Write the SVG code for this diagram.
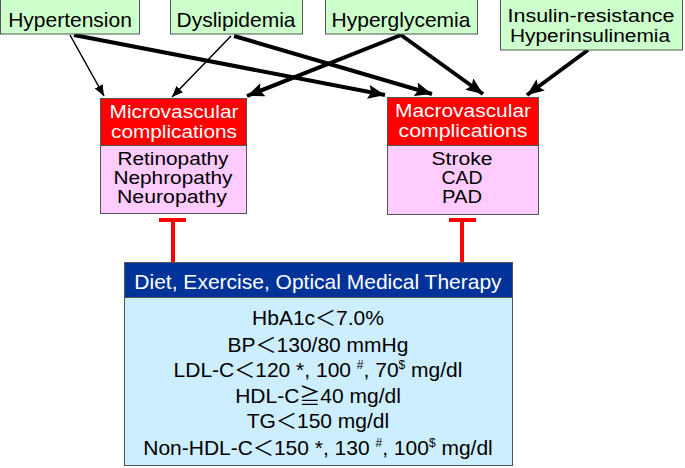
<svg xmlns="http://www.w3.org/2000/svg" width="685" height="468" viewBox="0 0 685 468">
<defs>
<style>
text{font-family:"Liberation Sans","Noto Sans CJK JP",sans-serif;font-size:21px;text-anchor:middle;fill:#000}
.s{font-size:17.5px}
.w{fill:#fff}
.box{stroke:#555;stroke-width:1}
.g{fill:#ccffcc}
.red{fill:#ff0000}
.pink{fill:#ffccff}
.blue{fill:#003399}
.lb{fill:#cceeff}
.thin{stroke:#000;stroke-width:1.5;fill:none;marker-end:url(#ah1)}
.thick{stroke:#000;stroke-width:4;fill:none;marker-end:url(#ah2)}
.inh{fill:#ff0000}
</style>
<marker id="ah1" markerUnits="userSpaceOnUse" markerWidth="12" markerHeight="10" refX="11" refY="4.5" orient="auto"><path d="M0,0 L11,4.5 L0,9 z" fill="#000"/></marker>
<marker id="ah2" markerUnits="userSpaceOnUse" markerWidth="18" markerHeight="16" refX="17" refY="7" orient="auto"><path d="M0,0 L17,7 L0,14 L3,7 z" fill="#000"/></marker>
</defs>

<g id="connectors">
<path class="thin" d="M70,35 L104,96"/>
<path class="thick" d="M74,35 L385,95"/>
<path class="thin" d="M231,36 L172,97"/>
<path class="thick" d="M234,36 L432,94"/>
<path class="thick" d="M401,35 L247,96"/>
<path class="thick" d="M401,35 L483,94"/>
<path class="thick" d="M588,50 L527,95"/>
<g id="inhibit-micro"><rect class="inh" x="171" y="219" width="4" height="43"/><rect class="inh" x="159" y="218" width="27" height="4"/></g>
<g id="inhibit-macro"><rect class="inh" x="460" y="219" width="4" height="43"/><rect class="inh" x="449" y="218" width="27" height="4"/></g>
</g>

<g id="hypertension"><rect class="box g" x="0.5" y="-1" width="139" height="35"/><text x="70" y="27">Hypertension</text></g>
<g id="dyslipidemia"><rect class="box g" x="170.5" y="-1" width="132" height="35"/><text x="236" y="27">Dyslipidemia</text></g>
<g id="hyperglycemia"><rect class="box g" x="325.5" y="-1" width="152" height="35"/><text x="401" y="27">Hyperglycemia</text></g>
<g id="insulin"><rect class="box g" x="500.5" y="-1" width="182" height="51"/><text class="s" x="591" y="22" textLength="167" lengthAdjust="spacingAndGlyphs">Insulin-resistance</text><text class="s" x="590" y="42" textLength="160" lengthAdjust="spacingAndGlyphs">Hyperinsulinemia</text></g>

<g id="micro">
<rect class="box red" x="100.5" y="98.5" width="146" height="47"/>
<rect class="box pink" x="100.5" y="145.5" width="146" height="68"/>
<text class="w s" x="174" y="118" textLength="129" lengthAdjust="spacingAndGlyphs">Microvascular</text>
<text class="w s" x="174" y="138" textLength="126" lengthAdjust="spacingAndGlyphs">complications</text>
<text class="s" x="173" y="165" textLength="111" lengthAdjust="spacingAndGlyphs">Retinopathy</text>
<text class="s" x="173" y="184" textLength="119" lengthAdjust="spacingAndGlyphs">Nephropathy</text>
<text class="s" x="172" y="203" textLength="110" lengthAdjust="spacingAndGlyphs">Neuropathy</text>
</g>

<g id="macro">
<rect class="box red" x="387.5" y="97.5" width="151" height="48"/>
<rect class="box pink" x="387.5" y="145.5" width="151" height="69"/>
<text class="w s" x="463" y="117" textLength="136" lengthAdjust="spacingAndGlyphs">Macrovascular</text>
<text class="w s" x="463" y="137" textLength="129" lengthAdjust="spacingAndGlyphs">complications</text>
<text class="s" x="462" y="165" textLength="61" lengthAdjust="spacingAndGlyphs">Stroke</text>
<text class="s" x="462" y="184" textLength="41" lengthAdjust="spacingAndGlyphs">CAD</text>
<text class="s" x="462" y="203" textLength="40" lengthAdjust="spacingAndGlyphs">PAD</text>
</g>

<g id="therapy">
<rect class="box blue" x="124.5" y="262.5" width="388" height="35"/>
<rect class="box lb" x="124.5" y="297.5" width="388" height="168"/>
<text class="w" x="318" y="289">Diet, Exercise, Optical Medical Therapy</text>
<text x="318" y="325">HbA1c＜7.0%</text>
<text x="318" y="352">BP＜130/80 mmHg</text>
<text x="318" y="377">LDL-C＜120 *, 100 <tspan font-size="12" dy="-8">#</tspan><tspan dy="8">, 70</tspan><tspan font-size="12" dy="-8">$</tspan><tspan dy="8"> mg/dl</tspan></text>
<text x="318" y="403">HDL-C≧40 mg/dl</text>
<text x="318" y="428">TG＜150 mg/dl</text>
<text x="318" y="455">Non-HDL-C＜150 *, 130 <tspan font-size="12" dy="-8">#</tspan><tspan dy="8">, 100</tspan><tspan font-size="12" dy="-8">$</tspan><tspan dy="8"> mg/dl</tspan></text>
</g>
</svg>
